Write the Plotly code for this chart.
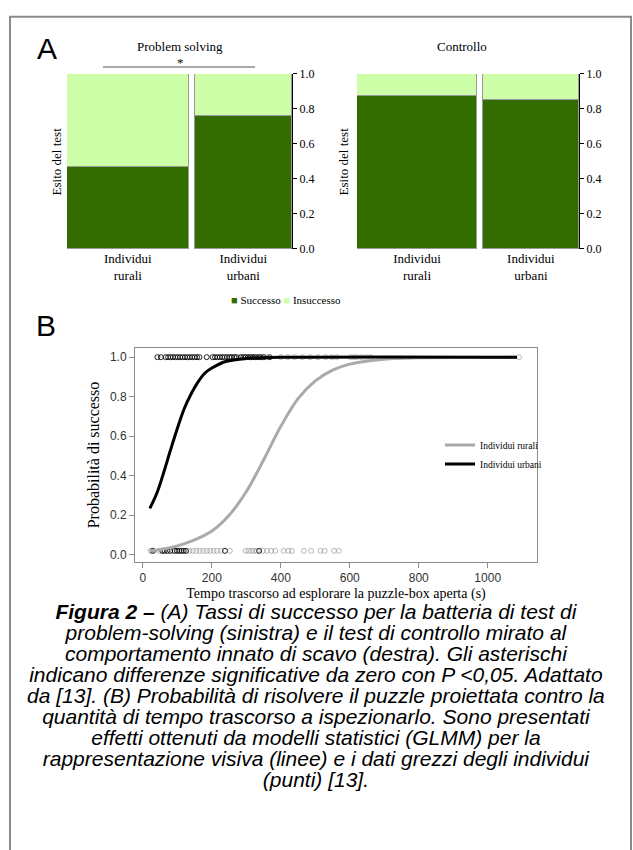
import plotly.graph_objects as go

W, H = 633, 850


def px(x):
    return x / W


def py(y):
    return 1 - y / H


SERIF = "Liberation Serif"
SANS = "Liberation Sans"

# ---------------- Panel A data ----------------
groups = ["Individui<br>rurali", "Individui<br>urbani"]
group_share = [0.555, 0.445]          # relative sample sizes (mosaic bar widths)
ps_success = [0.47, 0.76]             # Problem solving: success rate
ctrl_success = [0.875, 0.85]          # Controllo: success rate
y_ticks_a = [0.0, 0.2, 0.4, 0.6, 0.8, 1.0]
bar_gap = 0.027

# ---------------- Panel B data ----------------
urb_fit_x = [20, 40, 60, 80, 100, 120, 140, 160, 180, 200, 240, 300, 400, 1085]
urb_fit_y = [0.235, 0.31, 0.415, 0.53, 0.64, 0.74, 0.815, 0.875, 0.92, 0.945, 0.978, 0.994, 0.999, 1.0]
rur_fit_x = [20, 60, 100, 150, 200, 250, 300, 350, 400, 450, 500, 550, 600, 700, 800, 1085]
rur_fit_y = [0.02, 0.03, 0.045, 0.075, 0.12, 0.2, 0.32, 0.48, 0.65, 0.79, 0.88, 0.935, 0.965, 0.99, 0.997, 1.0]

urb_succ_x = [42, 52, 66, 73, 80, 87, 94, 101, 108, 115, 122, 129, 136, 143, 150, 157, 164, 185,
              202, 209, 216, 223, 230, 237, 244, 251, 258, 265, 272, 284, 291, 298, 305, 312,
              319, 326, 334, 342, 350, 368]
rur_succ_x = [255, 268, 282, 296, 310, 324, 338, 352, 360, 400, 420, 440, 462, 485, 508, 530,
              548, 562, 602, 612, 622, 635, 648, 660, 1091]
urb_fail_x = [28, 56, 63, 71, 79, 92, 99, 106, 112, 118, 125, 238, 337]
rur_fail_x = [22, 32, 48, 60, 86, 135, 145, 155, 165, 175, 185, 195, 205, 215, 226, 252, 298,
              306, 314, 322, 330, 348, 360, 372, 384, 408, 422, 432, 467, 488, 515, 527, 554, 568]
succ_level = 1.0
fail_level = 0.02
x_ticks_b = [0, 200, 400, 600, 800, 1000]
y_ticks_b = [0.0, 0.2, 0.4, 0.6, 0.8, 1.0]

caption_lines = [
    "<b>Figura 2 –</b> (A) Tassi di successo per la batteria di test di",
    "problem-solving (sinistra) e il test di controllo mirato al",
    "comportamento innato di scavo (destra). Gli asterischi",
    "indicano differenze significative da zero con P <0,05. Adattato",
    "da [13]. (B) Probabilità di risolvere il puzzle proiettata contro la",
    "quantità di tempo trascorso a ispezionarlo. Sono presentati",
    "effetti ottenuti da modelli statistici (GLMM) per la",
    "rappresentazione visiva (linee) e i dati grezzi degli individui",
    "(punti) [13].",
]

DARK = "#336d00"
LIGHT = "#ccffa8"
OUTLINE = "#9a9a9a"

centers = [group_share[0] / 2, group_share[0] + bar_gap + group_share[1] / 2]
x_max_a = sum(group_share) + bar_gap

fig = go.Figure()

for xa, ya, succ in [("x", "y", ps_success), ("x2", "y2", ctrl_success)]:
    fig.add_trace(go.Bar(x=centers, y=succ, width=group_share, marker_color=DARK,
                         marker_line=dict(color=OUTLINE, width=1), xaxis=xa, yaxis=ya,
                         showlegend=False, name="Successo"))
    fig.add_trace(go.Bar(x=centers, y=[1 - s for s in succ], width=group_share,
                         marker_color=LIGHT, marker_line=dict(color=OUTLINE, width=1),
                         xaxis=xa, yaxis=ya, showlegend=False, name="Insuccesso"))

# Panel B points
pt_black = "rgba(0,0,0,0.85)"
pt_gray = "rgba(140,140,140,0.6)"
for xs, lvl, col in [(rur_succ_x, succ_level, pt_gray), (rur_fail_x, fail_level, pt_gray),
                     (urb_succ_x, succ_level, pt_black), (urb_fail_x, fail_level, pt_black)]:
    fig.add_trace(go.Scatter(x=xs, y=[lvl] * len(xs), mode="markers", xaxis="x3", yaxis="y3",
                             marker=dict(symbol="circle-open", size=5, color=col,
                                         line=dict(width=1, color=col)),
                             showlegend=False, hoverinfo="x"))

fig.add_trace(go.Scatter(x=rur_fit_x, y=rur_fit_y, mode="lines", xaxis="x3", yaxis="y3",
                         line=dict(color="#aaaaaa", width=3, shape="spline"),
                         name="Individui rurali"))
fig.add_trace(go.Scatter(x=urb_fit_x, y=urb_fit_y, mode="lines", xaxis="x3", yaxis="y3",
                         line=dict(color="#000000", width=3, shape="spline"),
                         name="Individui urbani"))

ya_common = dict(range=[0, 1], side="right", showline=True, linecolor="black", linewidth=1,
                 ticks="outside", ticklen=4, tickcolor="black", tickvals=y_ticks_a,
                 tickformat=".1f", tickfont=dict(family=SERIF, size=12, color="black"),
                 showgrid=False, zeroline=False, domain=[py(246), py(68)])
xa_common = dict(range=[0, x_max_a], showline=False, showgrid=False, zeroline=False,
                 tickvals=centers, ticktext=groups, ticks="",
                 tickfont=dict(family=SERIF, size=13, color="black"))

fig.update_layout(
    width=W, height=H, margin=dict(l=0, r=0, t=0, b=0),
    paper_bgcolor="white", plot_bgcolor="white", barmode="stack", bargap=0,
    xaxis=dict(domain=[px(67), px(292)], anchor="y", **xa_common),
    yaxis=dict(anchor="x", **ya_common),
    xaxis2=dict(domain=[px(357), px(579)], anchor="y2", **xa_common),
    yaxis2=dict(anchor="x2", **ya_common),
    xaxis3=dict(domain=[px(135), px(537)], anchor="y3", range=[-23, 1143],
                tickvals=x_ticks_b, showline=True, mirror=True, linecolor="#8c8c8c",
                ticks="outside", ticklen=5, tickcolor="#8c8c8c", showgrid=False,
                zeroline=False, tickfont=dict(family=SANS, size=12, color="#333"),
                title=dict(text="Tempo trascorso ad esplorare la puzzle-box aperta (s)",
                           font=dict(family=SERIF, size=14, color="black"), standoff=4)),
    yaxis3=dict(domain=[py(564), py(347)], anchor="x3", range=[-0.035, 1.045],
                tickvals=y_ticks_b, tickformat=".1f", showline=True, mirror=True,
                linecolor="#8c8c8c", ticks="outside", ticklen=5, tickcolor="#8c8c8c",
                showgrid=False, zeroline=False,
                tickfont=dict(family=SANS, size=12, color="#333"),
                title=dict(text="Probabilità di successo",
                           font=dict(family=SERIF, size=16, color="black"), standoff=6)),
    legend=dict(x=px(440), y=py(455), xanchor="left", yanchor="middle",
                font=dict(family=SERIF, size=9.5, color="black"), itemwidth=30,
                bgcolor="rgba(0,0,0,0)", tracegroupgap=0, traceorder="normal"),
)

ann = [
    dict(text="A", x=px(47), y=py(42), font=dict(family=SANS, size=30, color="black")),
    dict(text="B", x=px(46), y=py(324), font=dict(family=SANS, size=30, color="black")),
    dict(text="Problem solving", x=px(180), y=py(40), font=dict(family=SERIF, size=13, color="black")),
    dict(text="*", x=px(180), y=py(56), font=dict(family=SERIF, size=13, color="black")),
    dict(text="Controllo", x=px(462), y=py(40), font=dict(family=SERIF, size=13, color="black")),
    dict(text="Esito del test", x=px(56), y=py(157), textangle=-90,
         font=dict(family=SERIF, size=13, color="black")),
    dict(text="Esito del test", x=px(343), y=py(157), textangle=-90,
         font=dict(family=SERIF, size=13, color="black")),
    dict(text=f"<span style='color:{DARK}'>■</span> Successo "
              f"<span style='color:{LIGHT}'>■</span> Insuccesso",
         x=px(286), y=py(298), font=dict(family=SERIF, size=11, color="black")),
]
# Caption: one text block; base size sets line spacing (1.3 em = ~21 px), glyphs drawn at 21 px
caption_text = "<br>".join(
    f"<span style='font-size:21px'><i>{line}</i></span>" for line in caption_lines)
ann.append(dict(text=caption_text, x=px(316), y=py(700.5), align="center",
                font=dict(family=SANS, size=16.2, color="black")))
for a in ann:
    a.update(xref="paper", yref="paper", showarrow=False, xanchor="center", yanchor="middle")
fig.update_layout(annotations=ann)

fig.update_layout(shapes=[
    dict(type="rect", xref="paper", yref="paper", x0=px(10), x1=px(631), y0=py(900), y1=py(10),
         line=dict(color="#8a8a8a", width=2)),
    dict(type="line", xref="paper", yref="paper", x0=px(103), x1=px(255), y0=py(61), y1=py(61),
         line=dict(color="#555", width=1)),
])

fig.write_html("out.html", config={"displayModeBar": False},
               post_script="document.body.style.margin='0px';"
                           "document.body.style.overflow='hidden';")
